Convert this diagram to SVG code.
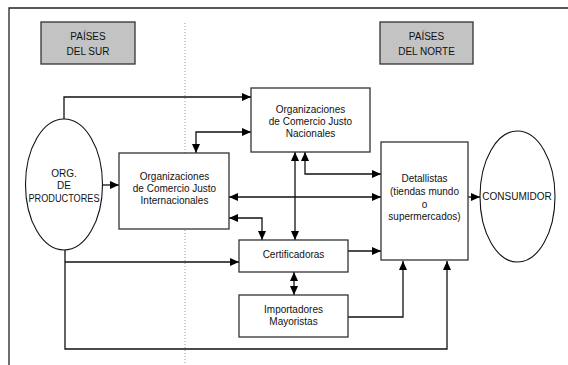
<svg xmlns="http://www.w3.org/2000/svg" width="568" height="365" viewBox="0 0 568 365">
<style>
.box{fill:#fff;stroke:#333;stroke-width:1.3}
.hdr{fill:#c3c3c3;stroke:#333;stroke-width:1.3}
.ell{fill:#fff;stroke:#111;stroke-width:1.1}
.t{font-family:"Liberation Sans",Arial,sans-serif;font-size:10px;fill:#111;text-anchor:middle}
.c{fill:none;stroke:#111;stroke-width:1.3}
.a{marker-end:url(#ah)}
.b{marker-start:url(#ah);marker-end:url(#ah)}
</style>
<defs>
<marker id="ah" markerUnits="userSpaceOnUse" markerWidth="9" markerHeight="8" refX="9" refY="4" orient="auto-start-reverse">
<path d="M0,0 L9,4 L0,8 z" fill="#000"/>
</marker>
</defs>
<rect width="568" height="365" fill="#fff"/>
<g id="frame">
<path d="M9,365 V8 H568" fill="none" stroke="#222" stroke-width="1.3"/>
<line x1="185" y1="23" x2="185" y2="365" stroke="#999" stroke-width="1" stroke-dasharray="1,2"/>
</g>
<g id="sur">
<rect class="hdr" x="41" y="22" width="94" height="42"/>
<text class="t" x="88" y="40">PAÍSES</text>
<text class="t" x="88" y="55">DEL SUR</text>
</g>
<g id="norte">
<rect class="hdr" x="380" y="22" width="93" height="42"/>
<text class="t" x="426.5" y="40">PAÍSES</text>
<text class="t" x="426.5" y="55">DEL NORTE</text>
</g>
<g id="connectors">
<path class="c a" d="M64,119 V97 H251"/>
<path class="c b" d="M196,153 V132 H251"/>
<path class="c a" d="M102,185 H119"/>
<path class="c b" d="M295,152 V240"/>
<path class="c b" d="M305,152 V174 H381"/>
<path class="c b" d="M229,197 H381"/>
<path class="c b" d="M229,218 H262 V240"/>
<path class="c a" d="M65,250 V349 H447 V261"/>
<path class="c a" d="M65,262 H239"/>
<path class="c a" d="M348,251 H381"/>
<path class="c a" d="M348,317 H403 V261"/>
<path class="c b" d="M294,272 V295"/>
<path class="c a" d="M468,197 H480"/>
</g>
<g id="productores">
<ellipse class="ell" cx="64" cy="184.5" rx="38.5" ry="65.5"/>
<text class="t" x="64" y="177">ORG.</text>
<text class="t" x="64" y="189">DE</text>
<text class="t" x="64" y="202" textLength="71" lengthAdjust="spacingAndGlyphs">PRODUCTORES</text>
</g>
<g id="nacionales">
<rect class="box" x="251" y="88" width="119" height="64"/>
<text class="t" x="310.5" y="113">Organizaciones</text>
<text class="t" x="310.5" y="125">de Comercio Justo</text>
<text class="t" x="310.5" y="137">Nacionales</text>
</g>
<g id="internacionales">
<rect class="box" x="119" y="153" width="110" height="76"/>
<text class="t" x="174.5" y="180">Organizaciones</text>
<text class="t" x="174.5" y="192">de Comercio Justo</text>
<text class="t" x="174.5" y="204">Internacionales</text>
</g>
<g id="detallistas">
<rect class="box" x="381" y="142" width="87" height="118"/>
<text class="t" x="424.5" y="182">Detallistas</text>
<text class="t" x="424.5" y="195">(tiendas mundo</text>
<text class="t" x="424.5" y="207.5">o</text>
<text class="t" x="424.5" y="220">supermercados)</text>
</g>
<g id="consumidor">
<ellipse class="ell" cx="517.5" cy="196.5" rx="37.5" ry="65.5"/>
<text class="t" x="517" y="200">CONSUMIDOR</text>
</g>
<g id="certificadoras">
<rect class="box" x="239" y="240" width="109" height="32"/>
<text class="t" x="293.5" y="258">Certificadoras</text>
</g>
<g id="importadores">
<rect class="box" x="239" y="295" width="109" height="42"/>
<text class="t" x="293.5" y="313">Importadores</text>
<text class="t" x="293.5" y="325">Mayoristas</text>
</g>
</svg>
